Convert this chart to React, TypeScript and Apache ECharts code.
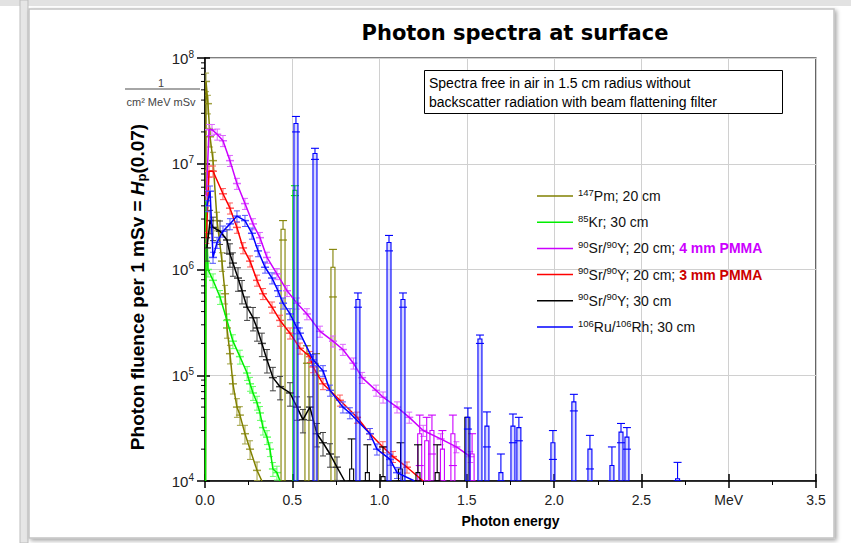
import React, { useEffect, useRef } from "react";
import * as echarts from "echarts";

// ---------- data (energy in MeV, fluence per 1 mSv) ----------
const seriesNames = ["Pm147", "Kr85", "SrY20_4", "SrY20_3", "SrY30", "Ru106"];
const lineColors = ["#808000", "#00ee00", "#cc00ff", "#ff0000", "#000000", "#0000ff"];
const errColors = ["#a0a040", "#66ff66", "#dd66ff", "#ff5a5a", "#404040", "#5555ff"];
const relErr = [0.2, 0.15, 0.12, 0.12, 0.25, 0.12];

const pmEnergy = [0.003, 0.006, 0.017, 0.029, 0.046, 0.069, 0.097, 0.115, 0.126, 0.143, 0.16, 0.183, 0.2, 0.229, 0.258, 0.298, 0.326];
const pmFluence = [1e4, 6.0e7, 3.7e7, 1.8e7, 1.07e7, 2.9e6, 1.2e6, 5.9e5, 2.8e5, 1.6e5, 8.3e4, 5.0e4, 4.2e4, 2.8e4, 2.0e4, 1.26e4, 1.0e4];

const krEnergy = [0.003, 0.006, 0.017, 0.046, 0.086, 0.126, 0.16, 0.2, 0.241, 0.258, 0.275, 0.298, 0.315, 0.332, 0.355, 0.372, 0.389, 0.412, 0.43];
const krFluence = [1e4, 4.5e6, 1.0e6, 7.9e5, 5.5e5, 3.3e5, 2.1e5, 1.5e5, 1.05e5, 8.3e4, 6.8e4, 5.5e4, 4.4e4, 3.2e4, 2.6e4, 2.0e4, 1.3e4, 1.2e4, 1.0e4];

const mgEnergy = [0.008, 0.023, 0.04, 0.07, 0.103, 0.143, 0.183, 0.229, 0.275, 0.315, 0.355, 0.412, 0.47, 0.527, 0.584, 0.659, 0.733, 0.79, 0.85, 0.9, 0.98, 1.02, 1.1, 1.17, 1.25, 1.35, 1.44, 1.52];
const mgFluence = [5.0e6, 2.1e7, 2.1e7, 1.9e7, 1.65e7, 1.07e7, 6.5e6, 4.2e6, 2.7e6, 2.0e6, 1.3e6, 9.1e5, 6.3e5, 4.8e5, 3.8e5, 2.6e5, 2.1e5, 1.75e5, 1.3e5, 9.5e4, 7.2e4, 6.2e4, 5.0e4, 4.0e4, 3.0e4, 2.5e4, 2.1e4, 1.7e4];

const rdEnergy = [0.008, 0.023, 0.046, 0.103, 0.143, 0.183, 0.218, 0.258, 0.298, 0.332, 0.384, 0.43, 0.487, 0.544, 0.601, 0.619, 0.676, 0.773, 0.871, 0.945, 1.019, 1.077, 1.157, 1.249];
const rdFluence = [2.0e6, 8.5e6, 8.5e6, 5.2e6, 3.8e6, 2.5e6, 1.6e6, 1.2e6, 7.9e5, 5.9e5, 4.4e5, 3.3e5, 2.5e5, 1.8e5, 1.5e5, 1.2e5, 8.3e4, 5.8e4, 4.0e4, 2.8e4, 2.1e4, 1.7e4, 1.35e4, 1.0e4];

const bkEnergy = [0.011, 0.029, 0.046, 0.086, 0.126, 0.143, 0.16, 0.189, 0.212, 0.241, 0.275, 0.298, 0.326, 0.355, 0.389, 0.43, 0.487, 0.527, 0.561, 0.601, 0.641, 0.676, 0.716, 0.756, 0.8];
const bkFluence = [1.6e6, 2.9e6, 2.5e6, 2.3e6, 1.9e6, 1.4e6, 1.15e6, 8.3e5, 6.3e5, 4.4e5, 3.5e5, 2.8e5, 2.0e5, 1.4e5, 9.5e4, 7.8e4, 6.8e4, 5.0e4, 3.8e4, 5.0e4, 2.8e4, 2.3e4, 1.8e4, 1.35e4, 1.0e4];

const ruEnergy = [0.011, 0.029, 0.046, 0.069, 0.103, 0.143, 0.183, 0.229, 0.269, 0.304, 0.344, 0.384, 0.418, 0.447, 0.487, 0.527, 0.544, 0.619, 0.676, 0.716, 0.79, 0.83, 0.945, 0.985, 1.06, 1.1, 1.2];
const ruFluence = [4.0e6, 5.5e6, 1.3e6, 1.8e6, 2.3e6, 2.7e6, 3.2e6, 2.9e6, 2.2e6, 1.5e6, 1.05e6, 8.3e5, 6.3e5, 4.8e5, 3.8e5, 2.8e5, 2.5e5, 1.4e5, 1.1e5, 7.2e4, 5.0e4, 4.4e4, 2.8e4, 2.0e4, 1.6e4, 1.2e4, 1.0e4];

// isolated lines (peaks) : energy, fluence, error
const pmPeakEnergy = [0.447, 0.584, 0.636, 0.733];
const pmPeakFluence = [2.4e6, 1.6e5, 1.3e5, 1.05e6];
const pmPeakErr = [5e5, 3e4, 3e4, 5e5];

const krPeakEnergy = [0.515];
const krPeakFluence = [5.6e6];
const krPeakErr = [6e5];

const mgPeakEnergy = [1.23, 1.27, 1.3, 1.36, 1.42, 1.53];
const mgPeakFluence = [2.8e4, 2.4e4, 3.0e4, 2.0e4, 2.8e4, 1.8e4];
const mgPeakErr = [1.4e4, 1.6e4, 1.2e4, 1.0e4, 1.4e4, 1.0e4];

const bkPeakEnergy = [0.84, 0.93, 1.02, 1.12, 1.22, 1.33, 1.5];
const bkPeakFluence = [1.3e4, 1.2e4, 1.1e4, 1.3e4, 1.2e4, 1.2e4, 4.0e4];
const bkPeakErr = [1.2e4, 1.0e4, 1.0e4, 1.0e4, 1.0e4, 1.0e4, 0];

const ruPeakEnergy = [0.521, 0.63, 0.876, 1.054, 1.134, 1.506, 1.575, 1.615, 1.695, 1.764, 1.798, 1.993, 2.113, 2.205, 2.331, 2.383, 2.417, 2.707];
const ruPeakFluence = [2.4e7, 1.25e7, 5.2e5, 1.8e6, 5.2e5, 4.0e4, 2.2e5, 3.3e4, 1.2e4, 3.3e4, 3.2e4, 2.3e4, 5.6e4, 2.0e4, 1.4e4, 2.9e4, 2.6e4, 1.05e4];
const ruPeakErr = [4e6, 1.5e6, 8e4, 3e5, 8e4, 9e3, 2e4, 1.2e4, 6e3, 1.0e4, 8e3, 7e3, 1.0e4, 7e3, 7e3, 6e3, 6e3, 4.5e3];

const yMinorTicks = [2e4, 3e4, 4e4, 5e4, 6e4, 7e4, 8e4, 9e4, 2e5, 3e5, 4e5, 5e5, 6e5, 7e5, 8e5, 9e5, 2e6, 3e6, 4e6, 5e6, 6e6, 7e6, 8e6, 9e6, 2e7, 3e7, 4e7, 5e7, 6e7, 7e7, 8e7, 9e7];

const legendLabels = [
  "{s|147}{t|Pm; 20 cm}",
  "{s|85}{t|Kr; 30 cm}",
  "{s|90}{t|Sr/}{s|90}{t|Y; 20 cm; }{m|4 mm PMMA}",
  "{s|90}{t|Sr/}{s|90}{t|Y; 20 cm; }{r|3 mm PMMA}",
  "{s|90}{t|Sr/}{s|90}{t|Y; 30 cm}",
  "{s|106}{t|Ru/}{s|106}{t|Rh; 30 cm}",
];

const curves = [
  [pmEnergy, pmFluence],
  [krEnergy, krFluence],
  [mgEnergy, mgFluence],
  [rdEnergy, rdFluence],
  [bkEnergy, bkFluence],
  [ruEnergy, ruFluence],
];
const peaks: any[] = [
  [0, pmPeakEnergy, pmPeakFluence, pmPeakErr],
  [1, krPeakEnergy, krPeakFluence, krPeakErr],
  [2, mgPeakEnergy, mgPeakFluence, mgPeakErr],
  [4, bkPeakEnergy, bkPeakFluence, bkPeakErr],
  [5, ruPeakEnergy, ruPeakFluence, ruPeakErr],
];

const FONT = "Liberation Sans, Arial, sans-serif";
const YMIN = 1e4;
const YMAX = 1e8;

function errRender(color: string) {
  return (params: any, api: any) => {
    const x = api.value(0);
    const v = api.value(1);
    const e = api.value(2);
    if (v <= YMIN) return null;
    const c = api.coord([x, v]);
    const gTop = api.coord([x, YMAX])[1];
    const gBot = api.coord([x, YMIN])[1];
    let top = api.coord([x, v + e])[1];
    let bot = api.coord([x, Math.max(v - e, 1)])[1];
    top = Math.max(top, gTop);
    bot = Math.min(bot, gBot);
    const st = { stroke: color, lineWidth: 1 };
    return {
      type: "group",
      children: [
        { type: "line", shape: { x1: c[0], y1: top, x2: c[0], y2: bot }, style: st },
        { type: "line", shape: { x1: c[0] - 3, y1: top, x2: c[0] + 3, y2: top }, style: st },
        { type: "line", shape: { x1: c[0] - 3, y1: bot, x2: c[0] + 3, y2: bot }, style: st },
        { type: "line", shape: { x1: c[0] - 4, y1: c[1], x2: c[0] + 4, y2: c[1] }, style: { stroke: color, lineWidth: 1.5 } },
      ],
    };
  };
}

function peakRender(color: string, fill: string) {
  return (params: any, api: any) => {
    const x = api.value(0);
    const v = api.value(1);
    const e = api.value(2);
    const c = api.coord([x, v]);
    const gBot = api.coord([x, YMIN])[1];
    const gTop = api.coord([x, YMAX])[1];
    const w = 2;
    const children: any[] = [
      {
        type: "rect",
        shape: { x: c[0] - w, y: c[1], width: 2 * w, height: Math.max(gBot - c[1], 0) },
        style: { fill, stroke: color, lineWidth: 1.1 },
      },
    ];
    if (e > 0) {
      const top = Math.max(api.coord([x, v + e])[1], gTop);
      const bot = Math.min(api.coord([x, Math.max(v - e, 1)])[1], gBot);
      const st = { stroke: color, lineWidth: 1.1 };
      children.push(
        { type: "line", shape: { x1: c[0], y1: top, x2: c[0], y2: c[1] }, style: st },
        { type: "line", shape: { x1: c[0] - 4, y1: top, x2: c[0] + 4, y2: top }, style: st },
        { type: "line", shape: { x1: c[0] - 4, y1: bot, x2: c[0] + 4, y2: bot }, style: st }
      );
    }
    return { type: "group", children };
  };
}

export default function App() {
  const ref = useRef<HTMLDivElement>(null);
  useEffect(() => {
    if (!ref.current) return;
    const chart = echarts.init(ref.current, undefined, { renderer: "svg" });

    const series: any[] = [];
    series.push({
      type: "custom",
      name: "yminor",
      xAxisIndex: 0,
      yAxisIndex: 0,
      clip: false,
      silent: true,
      z: 5,
      data: yMinorTicks.map((v) => [0, v]),
      renderItem: (params: any, api: any) => {
        const c = api.coord([0, api.value(1)]);
        return { type: "line", shape: { x1: c[0] - 4, y1: c[1], x2: c[0], y2: c[1] }, style: { stroke: "#000", lineWidth: 1 } };
      },
    });
    curves.forEach(([en, fl], k) => {
      series.push({
        type: "custom",
        name: seriesNames[k] + "_err",
        xAxisIndex: 0,
        yAxisIndex: 0,
        clip: true,
        silent: true,
        z: 2 + k,
        data: en.map((e, i) => [e, fl[i], fl[i] * relErr[k]]),
        renderItem: errRender(errColors[k]),
      });
    });
    peaks.forEach(([k, en, fl, er]) => {
      series.push({
        type: "custom",
        name: seriesNames[k] + "_peaks",
        xAxisIndex: 0,
        yAxisIndex: 0,
        clip: true,
        silent: true,
        z: 3 + k,
        data: en.map((e: number, i: number) => [e, fl[i], er[i]]),
        renderItem: peakRender(lineColors[k], k === 5 ? "rgba(120,120,255,0.3)" : "rgba(255,255,255,0)"),
      });
    });
    curves.forEach(([en, fl], k) => {
      series.push({
        type: "line",
        name: seriesNames[k],
        xAxisIndex: 0,
        yAxisIndex: 0,
        symbol: "none",
        z: 3 + k,
        lineStyle: { color: lineColors[k], width: 1.5 },
        itemStyle: { color: lineColors[k] },
        data: en.map((e, i) => [e, fl[i]]),
      });
    });

    const option: any = {
      animation: false,
      backgroundColor: "transparent",
      grid: { left: 205, right: 35, top: 58, bottom: 62, show: true, borderColor: "#000", borderWidth: 1.2, backgroundColor: "transparent" },
      xAxis: [
        {
          type: "value",
          min: 0,
          max: 3.5,
          interval: 0.5,
          name: "Photon energy",
          nameLocation: "middle",
          nameGap: 33,
          nameTextStyle: { fontFamily: FONT, fontSize: 14, fontWeight: "bold", color: "#000" },
          axisLine: { show: true, onZero: false, lineStyle: { color: "#000", width: 1.5 } },
          axisTick: { show: true, inside: false, length: 7, lineStyle: { color: "#000", width: 1.5 } },
          minorTick: { show: true, splitNumber: 2, length: 4, lineStyle: { color: "#000", width: 1 } },
          splitLine: { show: true, lineStyle: { color: "#d0d0d0", width: 1 } },
          axisLabel: {
            fontFamily: FONT,
            fontSize: 14,
            color: "#222",
            margin: 12,
            formatter: (v: number) => (Math.abs(v - 3) < 1e-9 ? "MeV" : v.toFixed(1)),
          },
        },
        {
          type: "value",
          min: 0,
          max: 3.5,
          interval: 0.5,
          position: "bottom",
          axisLine: { show: false },
          axisTick: { show: true, inside: true, length: 7, lineStyle: { color: "#000", width: 1.5 } },
          splitLine: { show: false },
          axisLabel: { show: false },
        },
      ],
      yAxis: [
        {
          type: "log",
          logBase: 10,
          min: YMIN,
          max: YMAX,
          axisLine: { show: true, onZero: false, lineStyle: { color: "#000", width: 1.5 } },
          axisTick: { show: true, inside: false, length: 8, lineStyle: { color: "#000", width: 1.5 } },
          splitLine: { show: true, lineStyle: { color: "#d0d0d0", width: 1 } },
          axisLabel: {
            margin: 11,
            formatter: (v: number) => "{b|10}{e|" + Math.round(Math.log10(v)) + "}",
            rich: {
              b: { fontFamily: FONT, fontSize: 15, color: "#222" },
              e: { fontFamily: FONT, fontSize: 10, color: "#222", verticalAlign: "top", padding: [0, 0, 8, 0] },
            },
          },
        },
        {
          type: "log",
          logBase: 10,
          min: YMIN,
          max: YMAX,
          position: "left",
          axisLine: { show: false },
          axisTick: { show: true, inside: true, length: 5, lineStyle: { color: "#000", width: 1.5 } },
          splitLine: { show: false },
          axisLabel: { show: false },
        },
      ],
      legend: {
        data: seriesNames,
        orient: "vertical",
        left: 532,
        top: 182,
        itemWidth: 36,
        itemHeight: 14,
        itemGap: 10.2,
        icon: "path://M0,6 L36,6 L36,7.5 L0,7.5 Z",
        selectedMode: false,
        formatter: (name: string) => legendLabels[seriesNames.indexOf(name)],
        textStyle: {
          fontFamily: FONT,
          fontSize: 14,
          color: "#111",
          rich: {
            t: { fontFamily: FONT, fontSize: 14, color: "#111", lineHeight: 18 },
            s: { fontFamily: FONT, fontSize: 9.5, color: "#111", lineHeight: 18, verticalAlign: "top", padding: [0, 0, 6, 0] },
            m: { fontFamily: FONT, fontSize: 14, fontWeight: "bold", color: "#cc00ff", lineHeight: 18 },
            r: { fontFamily: FONT, fontSize: 14, fontWeight: "bold", color: "#cc0000", lineHeight: 18 },
          },
        },
      },
      graphic: [
        { type: "rect", z: -20, silent: true, shape: { x: 0, y: 0, width: 851, height: 6 }, style: { fill: "#e2e2e2" } },
        { type: "rect", z: -20, silent: true, shape: { x: 20, y: 0, width: 8, height: 543 }, style: { fill: "#e6e6e6", stroke: "#bdbdbd", lineWidth: 1 } },
        {
          type: "rect",
          z: -15,
          silent: true,
          shape: { x: 29, y: 9, width: 805, height: 529 },
          style: { fill: "#fff", stroke: "#c4c4c4", lineWidth: 1.5, shadowBlur: 4, shadowColor: "rgba(0,0,0,0.35)", shadowOffsetX: 2, shadowOffsetY: 2 },
        },
        {
          type: "text",
          silent: true,
          x: 515,
          y: 33,
          style: { text: "Photon spectra at surface", fontFamily: "DejaVu Sans", fontSize: 21, fontWeight: "bold", fill: "#000", align: "center", verticalAlign: "middle" },
        },
        { type: "text", silent: true, x: 161, y: 83, style: { text: "1", fontFamily: FONT, fontSize: 11, fill: "#444", align: "center", verticalAlign: "middle" } },
        { type: "line", silent: true, shape: { x1: 125, y1: 89, x2: 200, y2: 89 }, style: { stroke: "#888", lineWidth: 1.5 } },
        { type: "text", silent: true, x: 161, y: 102, style: { text: "cm² MeV mSv", fontFamily: FONT, fontSize: 11, fill: "#444", align: "center", verticalAlign: "middle" } },
        {
          type: "text",
          silent: true,
          x: 137,
          y: 287,
          rotation: Math.PI / 2,
          style: {
            text: "{a|Photon fluence per 1 mSv = }{h|H}{p|p}{a|(0.07)}",
            align: "center",
            verticalAlign: "middle",
            rich: {
              a: { fontFamily: FONT, fontSize: 19, fontWeight: "bold", fill: "#000", lineHeight: 22 },
              h: { fontFamily: FONT, fontSize: 19, fontWeight: "bold", fontStyle: "italic", fill: "#000", lineHeight: 22 },
              p: { fontFamily: FONT, fontSize: 13, fontWeight: "bold", fill: "#000", lineHeight: 22, verticalAlign: "bottom", padding: [5, 0, 0, 0] },
            },
          },
        },
        {
          type: "rect",
          silent: true,
          z: 10,
          shape: { x: 424.5, y: 70.5, width: 358, height: 43 },
          style: { fill: "#fff", stroke: "#000", lineWidth: 1 },
        },
        {
          type: "text",
          silent: true,
          z: 11,
          x: 429,
          y: 83,
          style: { text: "Spectra free in air in 1.5 cm radius without", fontFamily: FONT, fontSize: 14, fill: "#000", verticalAlign: "middle" },
        },
        {
          type: "text",
          silent: true,
          z: 11,
          x: 429,
          y: 102,
          style: { text: "backscatter radiation with beam flattening filter", fontFamily: FONT, fontSize: 14, fill: "#000", verticalAlign: "middle" },
        },
      ],
      series,
    };
    chart.setOption(option);
    return () => chart.dispose();
  }, []);
  return <div ref={ref} style={{ position: "absolute", left: 0, top: 0, width: 851, height: 543, background: "#fff" }} />;
}
